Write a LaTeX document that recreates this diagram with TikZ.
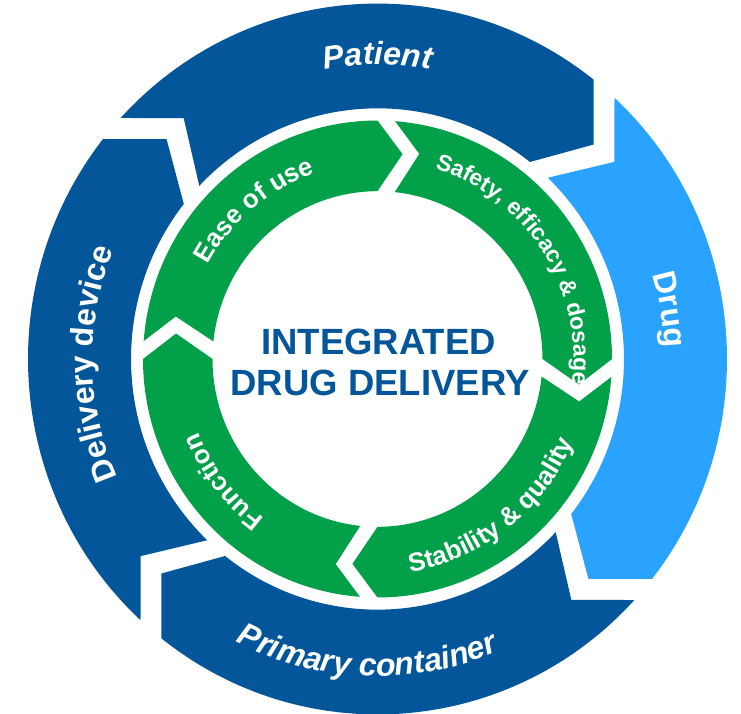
\documentclass[tikz,border=0pt]{standalone}
\usepackage{fontspec}
\setmainfont{Liberation Sans}
\usetikzlibrary{decorations.text}
\definecolor{dblue}{RGB}{2,86,153}
\definecolor{lblue}{RGB}{42,162,255}
\definecolor{igreen}{RGB}{3,160,74}
\tikzset{
  ctext/.style={text=dblue, font=\fontsize{36.5}{40}\selectfont\bfseries, inner sep=0pt, anchor=base},
  arclabel/.style={decorate, decoration={text along path, text align=center, text color=white, text={#1}}}
}
% #1 head angle, #2 colour
\newcommand\outerseg[2]{%
  \fill[#2] ({#1+85.5}:349.5) arc[start angle={#1+85.5}, end angle={#1}, radius=349.5]
    -- ({#1-7.5}:302) -- ({#1}:246.5)
    arc[start angle={#1}, end angle={#1+84.5}, radius=246.5]
    -- ({#1+77.5}:306) -- cycle;}
\newcommand\greenseg[1]{%
  \fill[igreen] ({#1+85.7}:234.5) arc[start angle={#1+85.7}, end angle={#1}, radius=234.5]
    -- ({#1-7.1}:203) -- ({#1}:165)
    arc[start angle={#1}, end angle={#1+84}, radius=165]
    -- ({#1+78.3}:206) -- cycle;}
\begin{document}
\begin{tikzpicture}[x=1pt, y=1.017pt]
\useasboundingbox[fill=white] (-377.5pt,-355pt) rectangle (363.5pt,359pt);
% outer ring
\outerseg{51.8}{dblue}
\outerseg{-38.2}{lblue}
\outerseg{-128.2}{dblue}
\outerseg{141.8}{dblue}
% inner ring
\greenseg{90}
\greenseg{0}
\greenseg{-90}
\greenseg{180}
% outer labels
\path[arclabel={|\fontsize{32}{32}\selectfont\bfseries\itshape|Patient}]
  (115:289.5) arc[start angle=115, end angle=65, radius=289.5];
\path[arclabel={|\fontsize{32}{32}\selectfont\bfseries|Drug}]
  (35:287) arc[start angle=35, end angle=-16, radius=287];
\path[arclabel={|\fontsize{32}{32}\selectfont\bfseries\itshape|Primary container}]
  (-125:312) arc[start angle=-125, end angle=-59, radius=312];
\path[arclabel={|\fontsize{32}{32}\selectfont\bfseries|Delivery device}]
  (211:285) arc[start angle=211, end angle=151, radius=285];
% inner labels
\path[arclabel={|\fontsize{26}{26}\selectfont\bfseries|Ease of use}]
  (160:193) arc[start angle=160, end angle=100, radius=193];
\path[arclabel={|\fontsize{23}{23}\selectfont\bfseries|Safety, efficacy {\&} dosage}]
  (83:196) arc[start angle=83, end angle=-17, radius=196];
\path[arclabel={|\fontsize{26}{26}\selectfont\bfseries|Stability {\&} quality}]
  (-100:212) arc[start angle=-100, end angle=-4, radius=212];
\path[arclabel={|\fontsize{26}{26}\selectfont\bfseries|Function}]
  (-112:193) arc[start angle=-112, end angle=-172, radius=193];
% centre text
\node[ctext] (title1) at (1pt,4pt) {INTEGRATED};
\node[ctext] (title2) at (2.5pt,-36.5pt) {DRUG DELIVERY};
\end{tikzpicture}
\end{document}
